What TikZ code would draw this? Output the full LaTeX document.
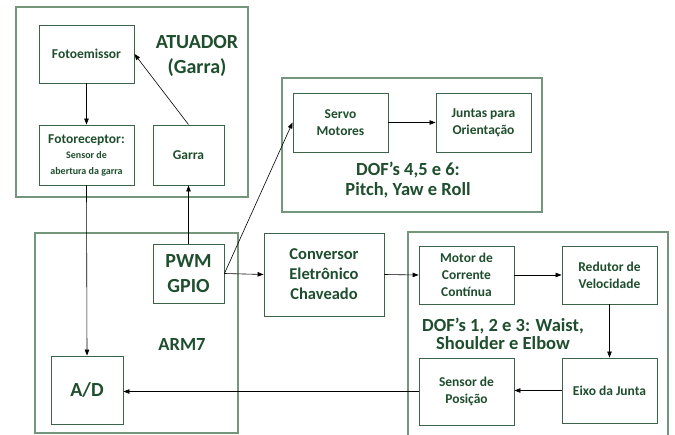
\documentclass[tikz,border=0pt]{standalone}
\usepackage{fontspec}
\setmainfont{Carlito}
\usetikzlibrary{arrows.meta}
\definecolor{txtgreen}{RGB}{30,78,45}
\definecolor{boxgreen}{RGB}{60,100,72}
\definecolor{outgreen}{RGB}{115,150,125}
\tikzset{
  box/.style={draw=boxgreen, line width=0.9pt, text=txtgreen, align=center, font=\bfseries\fontsize{13.5}{17}\selectfont, inner sep=0pt},
  outer/.style={draw=outgreen, line width=1.1pt},
  title/.style={text=txtgreen, align=center, font=\bfseries\fontsize{20}{25}\selectfont, inner sep=0pt},
  arr/.style={-{Triangle[length=6pt,width=4.5pt]}, line width=0.6pt, black},
  ln/.style={line width=0.6pt, black}
}
\begin{document}
\begin{tikzpicture}[x=1pt,y=-1pt]
\useasboundingbox[fill=white] (0,0) rectangle (675,435);
% outer boxes
\draw[outer] (16,7) rectangle (248,197);
\draw[outer] (282,78) rectangle (542,212);
\draw[outer] (35,233) rectangle (238,433);
\draw[outer] (408,436) -- (408,232) -- (668,232) -- (668,436);
% titles
\node[title] (tatu) at (197,55.5) {ATUADOR\\(Garra)};
\node[title, font=\bfseries\fontsize{18.5}{20}\selectfont] (tdof456) at (408,180) {DOF’s 4,5 e 6:\\Pitch, Yaw e Roll};
\node[title, font=\bfseries\fontsize{18.5}{19}\selectfont] (tarm) at (182,345) {ARM7};
\node[title, font=\bfseries\fontsize{18.5}{18.5}\selectfont] (tdof123) at (503,334) {DOF’s 1, 2 e 3: Waist,\\Shoulder e Elbow};
% inner boxes
\node[box, minimum width=95, minimum height=58] (fe) at (86.5,54) {Fotoemissor};
\node[box, minimum width=95, minimum height=60] (fr) at (86.5,155) {Fotoreceptor:\\[-2pt]{\fontsize{10}{17}\selectfont Sensor de}\\[-1pt]{\fontsize{10}{17}\selectfont abertura da garra}};
\node[box, minimum width=71, minimum height=60] (garra) at (188.5,155) {Garra};
\node[box, minimum width=95, minimum height=59] (servo) at (340.5,122.5) {Servo\\Motores};
\node[box, minimum width=95, minimum height=59] (juntas) at (483.5,122.5) {Juntas para\\Orientação};
\node[box, minimum width=71, minimum height=59, font=\bfseries\fontsize{20}{25}\selectfont] (pwm) at (188.5,273.5) {PWM\\GPIO};
\node[box, minimum width=72, minimum height=68, font=\bfseries\fontsize{20}{25}\selectfont] (ad) at (87,390) {A/D};
\node[box, minimum width=120, minimum height=83, font=\bfseries\fontsize{16.5}{20}\selectfont] (conv) at (324,274.5) {Conversor\\Eletrônico\\Chaveado};
\node[box, minimum width=95, minimum height=58] (motor) at (466.5,275) {Motor de\\Corrente\\Contínua};
\node[box, minimum width=95, minimum height=58] (red) at (609.5,275) {Redutor de\\Velocidade};
\node[box, minimum width=95, minimum height=67] (sensor) at (466.5,391.5) {Sensor de\\Posição};
\node[box, minimum width=95, minimum height=65] (eixo) at (609.5,390.5) {Eixo da Junta};
% connectors
\draw[arr] (fe.south) -- (fr.north);
\draw[arr] (garra.north) -- (fe.east);
\draw[arr] (pwm.north) -- (garra.south);
\draw[arr] (fr.south) -- (ad.north);
\draw[arr] (pwm.east) -- (servo.west);
\draw[arr] (pwm.east) -- (conv.west);
\draw[arr] (servo.east) -- (juntas.west);
\draw[arr] (conv.east) -- (motor.west);
\draw[arr] (motor.east) -- (red.west);
\draw[arr] (red.south) -- (eixo.north);
\draw[arr] (eixo.west) -- (eixo.west -| sensor.east);
\draw[arr] (sensor.west) -- (sensor.west -| ad.east);
\end{tikzpicture}
\end{document}
